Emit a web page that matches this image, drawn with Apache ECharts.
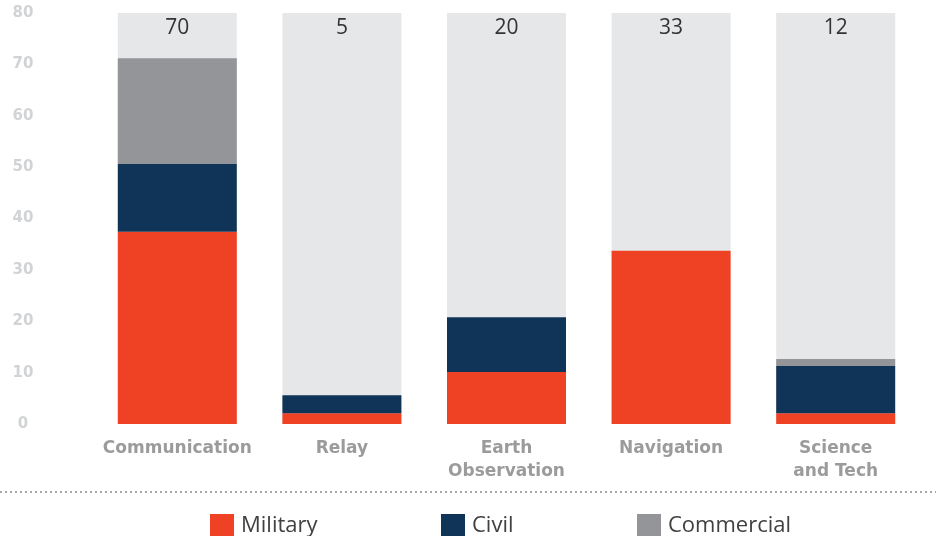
<!DOCTYPE html>
<html>
<head>
<meta charset="utf-8">
<script src="https://cdn.jsdelivr.net/npm/echarts@6/dist/echarts.min.js"></script>
<style>html,body{margin:0;padding:0;background:#fff;}#c{width:936px;height:536px;}</style>
</head>
<body>
<div id="c"></div>
<script>
var categories = ['Communication', 'Relay', 'Earth\nObservation', 'Navigation', 'Science\nand Tech'];
var military = [37.4, 2.1, 10.1, 33.7, 2.1];
var civil = [13.2, 3.5, 10.7, 0, 9.2];
var commercial = [20.6, 0, 0, 0, 1.35];
var totals = [70, 5, 20, 33, 12];
var axisMax = 80;
var yTicks = [0, 10, 20, 30, 40, 50, 60, 70, 80];
var legendNames = ['Military', 'Civil', 'Commercial'];
var legendLeft = [210, 441, 637];

var chart = echarts.init(document.getElementById('c'));
var bgData = categories.map(function(){ return axisMax; });
var legends = legendNames.map(function(n, i){
  return {
    left: legendLeft[i], top: 514, padding: 0,
    itemWidth: 24, itemHeight: 24,
    icon: 'rect',
    data: [n],
    textStyle: { fontFamily: 'Open Sans', fontSize: 22, color: '#414042', padding: [0,0,0,2] }
  };
});
chart.setOption({
  animation: false,
  grid: { left: 95, right: 18, top: 13, bottom: 112 },
  legend: legends,
  xAxis: {
    type: 'category', data: categories,
    axisLine: { show: false }, axisTick: { show: false },
    axisLabel: { interval: 0, margin: 13, fontFamily: 'DejaVu Sans', fontWeight: 'bold', fontSize: 17, lineHeight: 23, color: '#9b9b9b' }
  },
  yAxis: {
    type: 'value', min: 0, max: axisMax, interval: 10,
    splitLine: { show: false }, axisLine: { show: false }, axisTick: { show: false },
    axisLabel: { margin: 72, align: 'center', padding: [5, 0, 0, 0], fontFamily: 'DejaVu Sans', fontWeight: 'bold', fontSize: 15, color: '#d1d3d4',
      formatter: function(v){ return yTicks.indexOf(v) >= 0 ? String(v) : ''; } }
  },
  graphic: [{
    type: 'line', shape: { x1: 0, y1: 492, x2: 936, y2: 492 },
    style: { stroke: '#8a8a8a', lineWidth: 1.5, lineDash: [2, 3] }, silent: true
  }],
  series: [
    { name: 'bg', type: 'bar', data: bgData, barWidth: 119, barGap: '-100%', silent: true, z: 1,
      itemStyle: { color: '#e6e7e8' },
      label: { show: true, position: 'insideTop', distance: 5, fontFamily: 'Open Sans', fontSize: 21, color: '#333',
        formatter: function(p){ return totals[p.dataIndex]; } } },
    { name: 'Military', type: 'bar', stack: 's', data: military, barWidth: 119, barGap: '-100%', z: 2, itemStyle: { color: '#ef4123' } },
    { name: 'Civil', type: 'bar', stack: 's', data: civil, barWidth: 119, barGap: '-100%', z: 2, itemStyle: { color: '#0f3457' } },
    { name: 'Commercial', type: 'bar', stack: 's', data: commercial, barWidth: 119, barGap: '-100%', z: 2, itemStyle: { color: '#939598' } }
  ]
});
</script>
</body>
</html>
